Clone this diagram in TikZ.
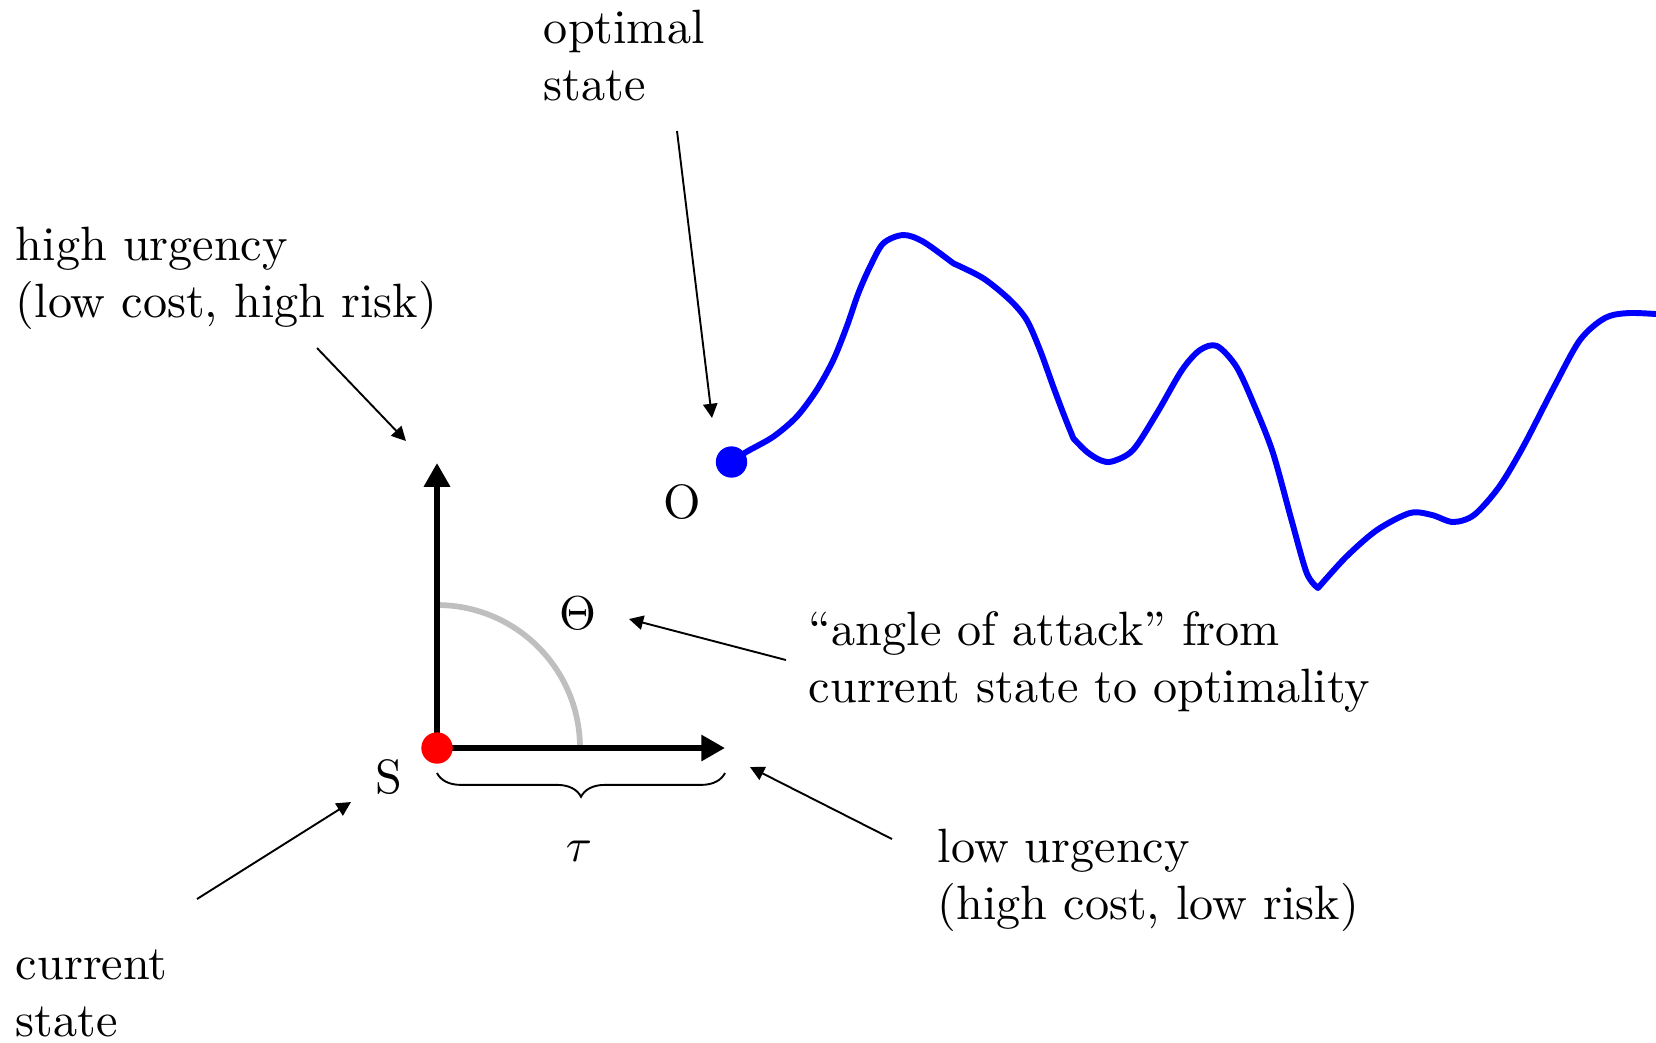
\documentclass[tikz,border=0pt]{standalone}
\usetikzlibrary{arrows.meta,decorations.pathreplacing}
\begin{document}
\fontsize{10.14pt}{12pt}\selectfont
\begin{tikzpicture}[x=0.2105pt,y=-0.2105pt,
  pointer/.style={line width=0.4pt,-{Triangle[length=3pt,width=3pt]}},
  axisarrow/.style={line width=1.2pt,-{Triangle[length=5pt,width=5.3pt]}},
  statedot/.style={circle,inner sep=0pt,minimum size=6.6pt},
  lbl/.style={inner sep=0pt,anchor=base},
  note/.style={inner sep=0pt,anchor=base west},
  wave/.style={blue,line width=1.25pt,line join=round,line cap=round}]
\useasboundingbox (0,0) rectangle (1656,1042);

% key points
\coordinate (S) at (437,748);
\coordinate (O) at (731.5,462);
\coordinate (upTip) at (437,463);
\coordinate (rightTip) at (725,748);

% texts
\node[note] (opt) at (543,43) {\begin{tabular}[t]{@{}l@{}}optimal\\state\end{tabular}};
\node[note] (hu) at (15,260) {\begin{tabular}[t]{@{}l@{}}high urgency\\(low cost, high risk)\end{tabular}};
\node[note] (aoa) at (808,645) {\begin{tabular}[t]{@{}l@{}}``angle of attack'' from\\current state to optimality\end{tabular}};
\node[note] (low) at (937,862) {\begin{tabular}[t]{@{}l@{}}low urgency\\(high cost, low risk)\end{tabular}};
\node[note] (cur) at (15,979) {\begin{tabular}[t]{@{}l@{}}current\\state\end{tabular}};

\node[lbl] (Slbl) at (389,793) {S};
\node[lbl] (Olbl) at (682,518) {O};
\node[lbl] (theta) at (577.5,629) {$\Theta$};
\node[lbl] (tau) at (579,861) {$\tau$};

% pointer arrows
\coordinate (optFrom) at (677,131);   \coordinate (optTo) at (712,418);
\coordinate (huFrom) at (317,348);    \coordinate (huTo) at (406,441);
\coordinate (aoaFrom) at (786,660);   \coordinate (aoaTo) at (629,619);
\coordinate (curFrom) at (197,899);   \coordinate (curTo) at (351,802);
\coordinate (lowFrom) at (892,839);   \coordinate (lowTo) at (750,767);
\draw[pointer] (optFrom) -- (optTo);
\draw[pointer] (huFrom) -- (huTo);
\draw[pointer] (aoaFrom) -- (aoaTo);
\draw[pointer] (curFrom) -- (curTo);
\draw[pointer] (lowFrom) -- (lowTo);

% angle arc
\draw[black!25,line width=1.2pt] (S) ++(30.1pt,0) arc[start angle=0,end angle=90,radius=30.1pt];

% axes
\draw[axisarrow] (S) -- (upTip);
\draw[axisarrow] (S) -- (rightTip);

% brace
\draw[line width=0.4pt,decorate,decoration={brace,mirror,amplitude=5pt}] (437,773) -- (725,773);

% wave
\draw[wave]
  plot[smooth] coordinates {(O) (746.7,451.7) (773.3,436.7) (796.7,416.7) (816.7,390) (833.3,360) (846.7,326.7) (858.3,293.3) (870,266.7) (883.3,243.3) (903.3,235) (923.3,241.7) (953.3,263.3)}
  plot[smooth] coordinates {(953.3,263.3) (983.3,278.3) (1010,300) (1026.7,320) (1040,350) (1053.3,386.7) (1063.3,413.3) (1073.3,438.3)}
  plot[smooth] coordinates {(1073.3,438.3) (1086.7,451.7) (1100,460) (1112,461.5) (1133,450) (1157,413) (1182,370) (1200,350) (1217,346) (1236.6,367) (1255,407) (1273,453) (1291.5,520) (1306.7,573) (1318,588)}
  plot[smooth] coordinates {(1318,588) (1346,557) (1377,530) (1410,513) (1432,515) (1453,522) (1474,515) (1499,487) (1523,447) (1554,387) (1580,340) (1605,318) (1630,313) (1670,315)};

% dots
\node[statedot,fill=blue] (Odot) at (O) {};
\node[statedot,fill=red] (Sdot) at (S) {};
\end{tikzpicture}
\end{document}
